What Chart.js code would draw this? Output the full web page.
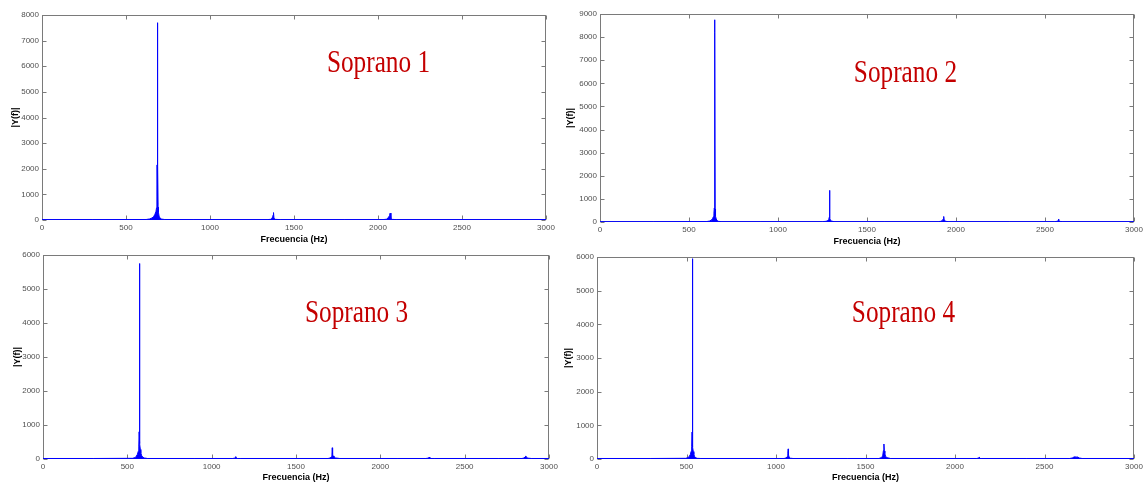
<!DOCTYPE html>
<html>
<head>
<meta charset="utf-8">
<title>Espectros de frecuencia - Soprano 1 a 4</title>
<script src="https://cdn.jsdelivr.net/npm/chart.js@4.4.1/dist/chart.umd.min.js"></script>
<style>
  body { margin: 0; background: #fff; }
  #page { position: relative; width: 1146px; height: 484px; overflow: hidden; background: #fff; }
  .panel { position: absolute; }
</style>
</head>
<body>
<div id="page">
  <div class="panel" id="p1"><canvas id="c1"></canvas></div>
  <div class="panel" id="p2"><canvas id="c2"></canvas></div>
  <div class="panel" id="p3"><canvas id="c3"></canvas></div>
  <div class="panel" id="p4"><canvas id="c4"></canvas></div>
</div>
<script>
// shared x ticks (Hz)
const freqTicks = [0, 500, 1000, 1500, 2000, 2500, 3000];

// y ticks per panel
const s1Ticks = [0, 1000, 2000, 3000, 4000, 5000, 6000, 7000, 8000];
const s2Ticks = [0, 1000, 2000, 3000, 4000, 5000, 6000, 7000, 8000, 9000];
const s3Ticks = [0, 1000, 2000, 3000, 4000, 5000, 6000];
const s4Ticks = [0, 1000, 2000, 3000, 4000, 5000, 6000];

// Soprano 1 spectrum
const s1Freq = [0, 300, 620, 640, 655, 665, 672, 678, 682, 684,
  685, 686, 687, 688, 689, 690, 691, 693, 697, 703,
  712, 730, 900, 1340, 1360, 1368, 1373, 1376, 1378, 1381,
  1390, 1420, 1800, 2030, 2050, 2060, 2066, 2070, 2073, 2077,
  2085, 2110, 2500, 3000];
const s1Mag = [15, 15, 20, 40, 80, 140, 220, 320, 480, 900,
  2150, 600, 3080, 7700, 1500, 2100, 500, 300, 150, 70,
  35, 20, 15, 15, 25, 60, 120, 200, 290, 60,
  25, 15, 15, 15, 30, 80, 150, 230, 270, 60,
  25, 15, 15, 15];

// Soprano 2
const s2Freq = [0, 300, 600, 615, 625, 632, 637, 640, 642, 643,
  644, 645, 646, 647, 648, 650, 653, 658, 665, 680,
  900, 1250, 1270, 1280, 1285, 1288, 1289, 1290, 1291, 1292,
  1295, 1300, 1315, 1600, 1900, 1915, 1924, 1929, 1931, 1933,
  1940, 1960, 2300, 2555, 2568, 2574, 2576, 2578, 2585, 2600,
  3000];
const s2Mag = [15, 15, 20, 40, 80, 140, 230, 380, 600, 1100,
  500, 8750, 8200, 560, 400, 250, 130, 60, 30, 15,
  15, 15, 30, 60, 110, 200, 820, 1370, 300, 150,
  80, 40, 15, 15, 15, 30, 70, 140, 240, 120,
  30, 15, 15, 15, 30, 60, 130, 60, 25, 15,
  15];

// Soprano 3
const s3Freq = [0, 300, 530, 545, 553, 560, 565, 568, 570, 571,
  572, 573, 574, 575, 577, 580, 585, 592, 600, 620,
  900, 1125, 1135, 1140, 1143, 1146, 1152, 1170, 1500, 1690,
  1702, 1709, 1713, 1715, 1717, 1720, 1725, 1735, 1760, 2100,
  2270, 2282, 2288, 2290, 2293, 2300, 2320, 2700, 2840, 2852,
  2858, 2862, 2866, 2875, 2895, 3000];
const s3Mag = [15, 15, 20, 40, 80, 140, 230, 380, 800, 1430,
  5750, 1350, 800, 450, 280, 180, 100, 50, 30, 15,
  15, 15, 25, 45, 70, 30, 15, 15, 15, 15,
  30, 60, 120, 330, 150, 90, 60, 30, 15, 15,
  15, 25, 40, 55, 30, 15, 15, 15, 15, 30,
  60, 90, 50, 25, 15, 15];

// Soprano 4
const s4Freq = [0, 300, 495, 508, 516, 522, 526, 529, 531, 532,
  533, 534, 535, 536, 538, 541, 546, 552, 560, 580,
  900, 1045, 1056, 1062, 1066, 1068, 1070, 1073, 1080, 1095,
  1400, 1575, 1588, 1596, 1600, 1603, 1605, 1608, 1612, 1620,
  1640, 1900, 2120, 2130, 2135, 2137, 2140, 2150, 2400, 2640,
  2655, 2665, 2670, 2675, 2685, 2695, 2710, 3000];
const s4Mag = [15, 15, 20, 40, 80, 140, 230, 380, 800, 2450,
  5950, 1750, 600, 350, 220, 130, 70, 35, 20, 15,
  15, 15, 30, 70, 170, 300, 120, 60, 25, 15,
  15, 15, 40, 90, 250, 446, 240, 160, 80, 40,
  15, 15, 15, 25, 50, 30, 15, 15, 15, 15,
  30, 60, 70, 55, 60, 30, 15, 15];

// panel layout: plot box in page pixels, where the axis titles sit, and the label anchor in data units
const panels = [
  { canvas: 'c1', wrap: 'p1', name: 'Soprano 1', freq: s1Freq, mag: s1Mag, yTicks: s1Ticks,
    box: { l: 42, t: 15, r: 546, b: 220 }, yTitleX: 16, xTitleY: 240, labelAt: [2003, 5776] },
  { canvas: 'c2', wrap: 'p2', name: 'Soprano 2', freq: s2Freq, mag: s2Mag, yTicks: s2Ticks,
    box: { l: 600, t: 14, r: 1134, b: 222 }, yTitleX: 571, xTitleY: 242, labelAt: [1716, 6058] },
  { canvas: 'c3', wrap: 'p3', name: 'Soprano 3', freq: s3Freq, mag: s3Mag, yTicks: s3Ticks,
    box: { l: 43, t: 255, r: 549, b: 459 }, yTitleX: 18, xTitleY: 478, labelAt: [1859, 4029] },
  { canvas: 'c4', wrap: 'p4', name: 'Soprano 4', freq: s4Freq, mag: s4Mag, yTicks: s4Ticks,
    box: { l: 597, t: 257, r: 1134, b: 459 }, yTitleX: 569, xTitleY: 478, labelAt: [1712, 4069] }
];

const AXIS_GRAY = '#7a7a7a';
const LABEL_GRAY = '#505050';

// matlab style box with inward ticks on all four sides
const framePlugin = {
  id: 'matlabFrame',
  beforeDatasetsDraw(chart) {
    const { ctx, chartArea: a, scales: { x, y } } = chart;
    const L = Math.round(a.left) + 0.5, R = Math.round(a.right) - 0.5;
    const T = Math.round(a.top) + 0.5, B = Math.round(a.bottom) - 0.5;
    ctx.save();
    ctx.strokeStyle = AXIS_GRAY;
    ctx.lineWidth = 1;
    ctx.strokeRect(L, T, R - L, B - T);
    ctx.beginPath();
    x.ticks.forEach(t => {
      const px = Math.round(x.getPixelForValue(t.value)) + 0.5;
      ctx.moveTo(px, B); ctx.lineTo(px, B - 4);
      ctx.moveTo(px, T); ctx.lineTo(px, T + 4);
    });
    y.ticks.forEach(t => {
      const py = Math.round(y.getPixelForValue(t.value)) + 0.5;
      ctx.moveTo(L, py); ctx.lineTo(L + 4, py);
      ctx.moveTo(R, py); ctx.lineTo(R - 4, py);
    });
    ctx.stroke();
    ctx.restore();
  }
};

// red serif label inside the plot
const sopranoLabel = {
  id: 'sopranoLabel',
  afterDatasetsDraw(chart, args, opts) {
    if (!opts.text) return;
    const { ctx, scales: { x, y } } = chart;
    const px = x.getPixelForValue(opts.at[0]);
    const py = y.getPixelForValue(opts.at[1]);
    ctx.save();
    ctx.translate(px, py);
    ctx.scale(0.79, 1);
    ctx.font = '32px "Liberation Serif", "Times New Roman", serif';
    ctx.fillStyle = '#c40000';
    ctx.textAlign = 'center';
    ctx.textBaseline = 'alphabetic';
    ctx.fillText(opts.text, 0, 0);
    ctx.restore();
  }
};

function buildPanel(p) {
  const left = p.yTitleX - 10;
  const top = p.box.t - 10;
  const width = p.box.r + 16 - left;
  const height = p.xTitleY + 8 - top;
  const yW = p.box.l - left;
  const xH = top + height - p.box.b;

  const wrap = document.getElementById(p.wrap);
  wrap.style.left = left + 'px';
  wrap.style.top = top + 'px';
  wrap.style.width = width + 'px';
  wrap.style.height = height + 'px';

  const points = p.freq.map((f, i) => ({ x: f, y: p.mag[i] }));
  const tickFont = { family: '"Liberation Sans", Arial, sans-serif', size: 8 };
  const titleFont = { family: '"Liberation Sans", Arial, sans-serif', size: 9, weight: 'bold' };

  return new Chart(document.getElementById(p.canvas).getContext('2d'), {
    type: 'line',
    data: {
      datasets: [{
        label: p.name,
        data: points,
        borderColor: '#0000ff',
        backgroundColor: '#0000ff',
        borderWidth: 1,
        pointRadius: 0,
        tension: 0,
        fill: 'origin'
      }]
    },
    options: {
      responsive: true,
      maintainAspectRatio: false,
      animation: false,
      layout: { padding: { top: 10, right: 16, left: 0, bottom: 0 } },
      plugins: {
        legend: { display: false },
        tooltip: { enabled: false },
        sopranoLabel: { text: p.name, at: p.labelAt }
      },
      scales: {
        x: {
          type: 'linear',
          min: 0,
          max: 3000,
          afterBuildTicks: s => { s.ticks = freqTicks.map(v => ({ value: v })); },
          afterFit: s => { s.height = xH; },
          grid: { display: false, drawTicks: false },
          border: { display: false },
          ticks: { color: LABEL_GRAY, font: tickFont, padding: 3, autoSkip: false, maxRotation: 0,
                   callback: v => String(v) },
          title: { display: true, text: 'Frecuencia (Hz)', color: '#000', font: titleFont,
                   padding: { top: 0, bottom: 2.6 } }
        },
        y: {
          min: 0,
          max: p.yTicks[p.yTicks.length - 1],
          afterBuildTicks: s => { s.ticks = p.yTicks.map(v => ({ value: v })); },
          afterFit: s => { s.width = yW; },
          grid: { display: false, drawTicks: false },
          border: { display: false },
          ticks: { color: LABEL_GRAY, font: tickFont, padding: 3, callback: v => String(v) },
          title: { display: true, text: '|Y(f)|', color: '#000', font: titleFont,
                   padding: { top: 4.6, bottom: 0 } }
        }
      }
    },
    plugins: [framePlugin, sopranoLabel]
  });
}

window.addEventListener('DOMContentLoaded', () => {
  panels.forEach(buildPanel);
});
</script>
</body>
</html>
